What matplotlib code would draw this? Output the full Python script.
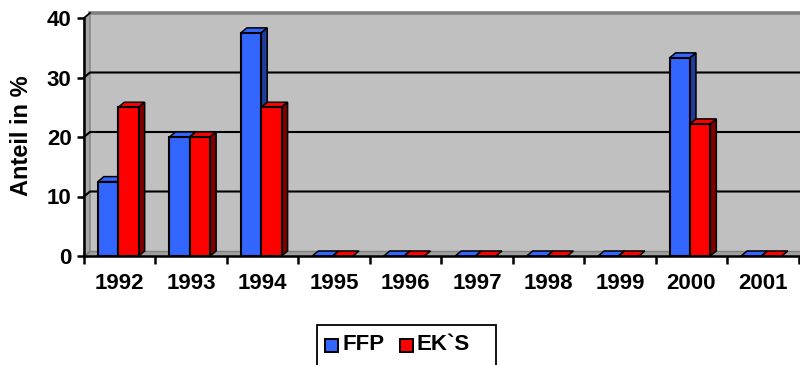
import matplotlib
matplotlib.use("Agg")
import matplotlib.pyplot as plt
from matplotlib.patches import Polygon, Rectangle

plt.rcParams['font.family'] = ['Liberation Sans', 'DejaVu Sans']
plt.rcParams['font.weight'] = 'bold'

years = ["1992", "1993", "1994", "1995", "1996", "1997", "1998", "1999", "2000", "2001"]
series_names = ["FFP", "EK`S"]
ffp = [12.5, 20.0, 37.5, 0, 0, 0, 0, 0, 33.3, 0]
eks = [25.0, 20.0, 25.0, 0, 0, 0, 0, 0, 22.2, 0]
y_ticks = [0, 10, 20, 30, 40]
y_label = "Anteil in %"

front_cols = ["#3366FF", "#FF0000"]
side_cols = ["#1F3D99", "#800000"]

W, H = 800, 365
fig = plt.figure(figsize=(W / 100, H / 100), dpi=100)
ax_left, ax_right, ax_top, ax_bot = 84, 798.6, 18, 256
ax = fig.add_axes([ax_left / W, 1 - ax_bot / H, (ax_right - ax_left) / W, (ax_bot - ax_top) / H])
n = len(years)
ymax = 40
ax.set_xlim(0, n)
ax.set_ylim(0, ymax)

# depth of the 3D box in data units (approx 6 px right, 5 px up)
px_x = n / (ax_right - ax_left)
px_y = ymax / (ax_bot - ax_top)
dx, dy = 6 * px_x, 5 * px_y
xr = n + 0.1

# back wall
ax.add_patch(Polygon([(dx, dy), (xr, dy), (xr, ymax + dy), (dx, ymax + dy)],
                     closed=True, facecolor="#C0C0C0", edgecolor="none", zorder=0, clip_on=False))
ax.plot([dx, xr], [ymax + dy, ymax + dy], color="#808080", lw=2.6, zorder=1, clip_on=False)
# left side wall
ax.add_patch(Polygon([(0, 0), (dx, dy), (dx, ymax + dy), (0, ymax)],
                     closed=True, facecolor="#A6A6A6", edgecolor="#808080", lw=1.0, zorder=0.5, clip_on=False))
# floor
ax.add_patch(Polygon([(0, 0), (xr, 0), (xr, dy), (dx, dy)],
                     closed=True, facecolor="#A0A0A0", edgecolor="#808080", lw=1.0, zorder=0.5, clip_on=False))

# gridlines on the back wall and side wall
for v in y_ticks[1:-1]:
    ax.plot([0, dx, xr], [v, v + dy, v + dy], color="black", lw=1.5, zorder=1, clip_on=False)
ax.plot([0, dx], [ymax, ymax + dy], color="black", lw=1.2, zorder=1, clip_on=False)

# 3D columns
bw = 0.285
offsets = [0.195, 0.48]
for si, vals in enumerate([ffp, eks]):
    for i, v in enumerate(vals):
        x0 = i + offsets[si]
        x1 = x0 + bw
        top = [(x0, v), (x1, v), (x1 + dx, v + dy), (x0 + dx, v + dy)]
        ax.add_patch(Polygon(top, closed=True, facecolor=front_cols[si], edgecolor="black",
                             lw=1.1, zorder=3 + i * 0.01, clip_on=False))
        if v > 0:
            side = [(x1, 0), (x1 + dx, dy), (x1 + dx, v + dy), (x1, v)]
            ax.add_patch(Polygon(side, closed=True, facecolor=side_cols[si], edgecolor="black",
                                 lw=1.1, zorder=3 + i * 0.01))
            ax.add_patch(Rectangle((x0, 0), bw, v, facecolor=front_cols[si], edgecolor="black",
                                   lw=1.5, zorder=3.005 + i * 0.01))

# axes
for s in ["top", "right"]:
    ax.spines[s].set_visible(False)
ax.spines["left"].set_linewidth(1.8)
ax.spines["bottom"].set_linewidth(1.8)
ax.spines["left"].set_zorder(5)
ax.spines["bottom"].set_zorder(5)
ax.patch.set_visible(False)

ax.set_yticks(y_ticks)
ax.set_yticklabels([str(t) for t in y_ticks], fontsize=16, fontweight="bold")
ax.tick_params(axis="y", direction="out", length=5, width=1.8, pad=4)
ax.set_xticks(range(n + 1))
ax.set_xticklabels([])
ax.tick_params(axis="x", which="major", direction="out", length=6, width=1.8)
ax.set_xticks([i + 0.5 for i in range(n)], minor=True)
ax.set_xticklabels(years, minor=True, fontsize=16, fontweight="bold")
ax.tick_params(axis="x", which="minor", length=0, pad=12)

fig.text(22 / W, 1 - 136 / H, y_label, rotation=90, ha="center", va="center",
         fontsize=17, fontweight="bold")

# legend box
lx0, ly0, lx1 = 317, 325, 496
fig.patches.append(Rectangle((lx0 / W, 1 - 372 / H), (lx1 - lx0) / W, (372 - ly0) / H,
                             transform=fig.transFigure, facecolor="white", edgecolor="black",
                             lw=1.3, figure=fig))
entries = [(325, 342), (400, 417)]
for (sx, tx), name, c in zip(entries, series_names, front_cols):
    fig.patches.append(Rectangle((sx / W, 1 - 351.5 / H), 13 / W, 13 / H, transform=fig.transFigure,
                                 facecolor=c, edgecolor="black", lw=1.4, figure=fig))
    fig.text(tx / W, 1 - 344.5 / H, name, ha="left", va="center",
             fontsize=16, fontweight="bold")

fig.savefig("out.png", dpi=100)
